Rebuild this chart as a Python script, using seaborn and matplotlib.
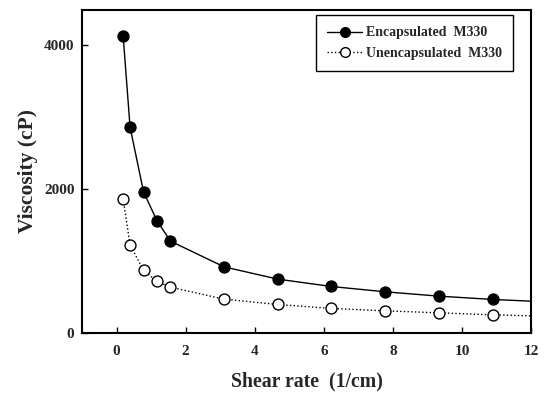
import matplotlib
matplotlib.use("Agg")
import matplotlib.pyplot as plt
from matplotlib.lines import Line2D
import seaborn as sns
import pandas as pd

shear_rate = [0.19, 0.39, 0.78, 1.17, 1.56, 3.11, 4.67, 6.22, 7.78, 9.33, 10.89]
encapsulated = [4130, 2866, 1967, 1564, 1282, 925, 754, 652, 578, 518, 472]
unencapsulated = [1865, 1231, 875, 722, 643, 476, 402, 347, 314, 286, 258]
# fitted curves continue to the right edge of the axis
curve_end_x = 12.0
encapsulated_end = 448
unencapsulated_end = 244

x_ticks = [0, 2, 4, 6, 8, 10, 12]
y_ticks = [0, 2000, 4000]
labels = ["Encapsulated  M330", "Unencapsulated  M330"]

sns.set_theme(style="white")
plt.rcParams["font.family"] = ["Liberation Serif", "DejaVu Serif"]
plt.rcParams["font.weight"] = "bold"

fig = plt.figure(figsize=(5.47, 3.96), dpi=100)
ax = fig.add_axes([0.150, 0.158, 0.821, 0.818])

pts = pd.DataFrame({"x": shear_rate, "enc": encapsulated, "unenc": unencapsulated})
curve_enc = pd.DataFrame({"x": shear_rate + [curve_end_x], "y": encapsulated + [encapsulated_end]})
curve_unenc = pd.DataFrame({"x": shear_rate + [curve_end_x], "y": unencapsulated + [unencapsulated_end]})

sns.lineplot(data=curve_unenc, x="x", y="y", ax=ax, color="black", linestyle=":",
             linewidth=1.0, sort=True, estimator=None)
sns.lineplot(data=curve_enc, x="x", y="y", ax=ax, color="black", linestyle="-",
             linewidth=1.0, sort=True, estimator=None)
sns.scatterplot(data=pts, x="x", y="unenc", ax=ax, marker="o", s=62,
                facecolor="white", edgecolor="black", linewidth=1.0, zorder=3)
sns.scatterplot(data=pts, x="x", y="enc", ax=ax, marker="o", s=62,
                color="black", edgecolor="black", linewidth=1.0, zorder=3)

ax.set_xlim(-1, 12)
ax.set_ylim(0, 4500)
ax.set_xticks(x_ticks)
ax.set_yticks(y_ticks)
ax.set_xticklabels([str(t) for t in x_ticks], fontsize=11, fontweight="bold")
ax.set_yticklabels([str(t) for t in y_ticks], fontsize=11, fontweight="bold")
ax.tick_params(axis="both", direction="in", length=4, width=1.0, color="black",
               bottom=True, left=True, top=False, right=False)
ax.tick_params(axis="y", pad=5.5)
ax.tick_params(axis="x", pad=8)
for s in ax.spines.values():
    s.set_visible(True)
    s.set_color("black")
    s.set_linewidth(1.5)

ax.set_xlabel("Shear rate  (1/cm)", fontsize=14.2, fontweight="bold", labelpad=10)
ax.set_ylabel("Viscosity (cP)", fontsize=15.5, fontweight="bold", labelpad=4.5)

handles = [
    Line2D([], [], color="black", linestyle="-", linewidth=1.0, marker="o",
           markersize=7, markerfacecolor="black", markeredgecolor="black"),
    Line2D([], [], color="black", linestyle=":", linewidth=1.0, marker="o",
           markersize=7, markerfacecolor="white", markeredgecolor="black"),
]
leg = ax.legend(handles, labels, loc="upper right", bbox_to_anchor=(0.96, 0.982),
                borderaxespad=0, frameon=True, fancybox=False, edgecolor="black",
                framealpha=1, prop={"weight": "bold", "size": 10}, handlelength=2.5,
                handletextpad=0.3, borderpad=0.8, labelspacing=0.55)
leg.get_frame().set_linewidth(1.0)

fig.savefig("out.png", dpi=100)
